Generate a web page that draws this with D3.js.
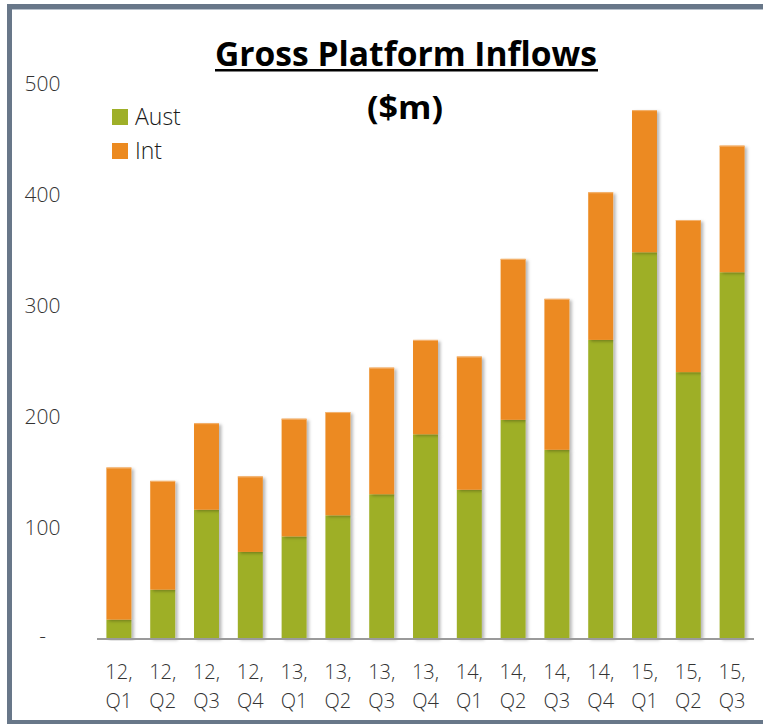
<!DOCTYPE html>
<html>
<head>
<meta charset="utf-8">
<script src="https://cdn.jsdelivr.net/npm/d3@7"></script>
<style>
  html, body { margin: 0; padding: 0; background: #ffffff; }
  svg { display: block; }
</style>
</head>
<body>
<script>
// Quarterly gross platform inflows, $m
const quarters = ["12,Q1","12,Q2","12,Q3","12,Q4","13,Q1","13,Q2","13,Q3","13,Q4",
                  "14,Q1","14,Q2","14,Q3","14,Q4","15,Q1","15,Q2","15,Q3"];
const aust = [17, 44, 116, 78, 92, 111, 130, 184, 134, 197, 170, 269, 348, 240, 330];
const intl = [137, 98, 78, 68, 106, 93, 114, 85, 120, 145, 136, 133, 128, 137, 114];
const yTicks = [0, 100, 200, 300, 400, 500];
const seriesNames = ["Aust", "Int"];
const seriesColors = ["#9eaf28", "#ec8a20"];

const W = 763, H = 724;
const svg = d3.select("body").append("svg").attr("width", W).attr("height", H);

const defs = svg.append("defs");
const shadow = defs.append("filter").attr("id", "barShadow")
  .attr("x", "-20%").attr("y", "-5%").attr("width", "160%").attr("height", "115%");
shadow.append("feDropShadow").attr("dx", 2.5).attr("dy", 1.5)
  .attr("stdDeviation", 1.8).attr("flood-color", "#000").attr("flood-opacity", 0.28);

// frame
svg.append("rect").attr("x", 9.5).attr("y", 6.5).attr("width", W + 20).attr("height", 716)
  .attr("fill", "none").attr("stroke", "#687789").attr("stroke-width", 5);
svg.append("line").attr("x1", 12).attr("x2", W).attr("y1", 9.5).attr("y2", 9.5)
  .attr("stroke", "#b8c1cc").attr("stroke-width", 1);

const x = d3.scaleBand().domain(quarters).range([97, 754])
  .paddingInner(0.43).paddingOuter(0.215);
const y = d3.scaleLinear().domain([0, 500]).range([638.5, 83.5]);

const rows = quarters.map((q, i) => ({ q, Aust: aust[i], Int: intl[i] }));
const stack = d3.stack().keys(seriesNames)(rows);

const barsG = svg.append("g");
stack.forEach((layer, li) => {
  barsG.append("g").selectAll("rect").data(layer).join("rect")
    .attr("x", d => x(d.data.q))
    .attr("y", d => y(d[1]))
    .attr("width", x.bandwidth())
    .attr("height", d => y(d[0]) - y(d[1]))
    .attr("fill", seriesColors[li])
    .attr("filter", "url(#barShadow)");
});
// light edge along each bar top
barsG.append("g").selectAll("line").data(stack[1]).join("line")
  .attr("x1", d => x(d.data.q)).attr("x2", d => x(d.data.q) + x.bandwidth())
  .attr("y1", d => y(d[1]) + 0.5).attr("y2", d => y(d[1]) + 0.5)
  .attr("stroke", "#f4b472").attr("stroke-width", 1);

// baseline
svg.append("line").attr("x1", 97).attr("x2", 754)
  .attr("y1", y(0) + 0.5).attr("y2", y(0) + 0.5)
  .attr("stroke", "#9a9a9a").attr("stroke-width", 2);

// y axis labels
const font = "'Open Sans', 'Segoe UI', sans-serif";
const yAxis = d3.axisLeft(y).tickValues(yTicks).tickSize(0)
  .tickFormat(d => d === 0 ? "-" : d3.format("d")(d));
const yg = svg.append("g").attr("transform", "translate(42.5,0)").call(yAxis);
yg.select(".domain").remove();
yg.selectAll("text").attr("x", 0).attr("text-anchor", "middle")
  .attr("dy", d => d === 0 ? "0.2em" : "0.32em")
  .attr("font-family", font).attr("font-weight", 300)
  .attr("font-size", 21).attr("fill", "#333333");

// x axis labels (two lines)
const xAxis = d3.axisBottom(x).tickSize(0).tickFormat("");
const xg = svg.append("g").attr("transform", `translate(0,${y(0)})`).call(xAxis);
xg.select(".domain").remove();
xg.selectAll(".tick").each(function(d) {
  const parts = d.split(",");
  const t = d3.select(this).append("text")
    .attr("text-anchor", "middle").attr("font-family", font).attr("font-weight", 300)
    .attr("font-size", 20).attr("fill", "#333333");
  t.append("tspan").attr("x", 0).attr("y", 40).text(parts[0] + ",");
  t.append("tspan").attr("x", 0).attr("y", 69).text(parts[1]);
});

// title
svg.append("text").attr("x", 406).attr("y", 66).attr("text-anchor", "middle")
  .attr("font-family", font).attr("font-weight", 700).attr("font-size", 34)
  .attr("textLength", 382).attr("lengthAdjust", "spacingAndGlyphs")
  .attr("fill", "#000").text("Gross Platform Inflows");
svg.append("rect").attr("x", 215).attr("y", 69).attr("width", 383).attr("height", 2.5)
  .attr("fill", "#000");
svg.append("text").attr("x", 405).attr("y", 119).attr("text-anchor", "middle")
  .attr("font-family", font).attr("font-weight", 700).attr("font-size", 33)
  .attr("textLength", 76).attr("lengthAdjust", "spacingAndGlyphs")
  .attr("fill", "#000").text("($m)");

// legend
const legend = svg.append("g").selectAll("g").data(seriesNames).join("g")
  .attr("transform", (d, i) => `translate(112,${109 + i * 34})`);
legend.append("rect").attr("width", 16).attr("height", 16)
  .attr("fill", (d, i) => seriesColors[i]);
legend.append("text").attr("x", 23).attr("y", 8).attr("dy", "0.35em")
  .attr("font-family", font).attr("font-weight", 300).attr("font-size", 23)
  .attr("fill", "#1a1a1a").text(d => d);
</script>
</body>
</html>
